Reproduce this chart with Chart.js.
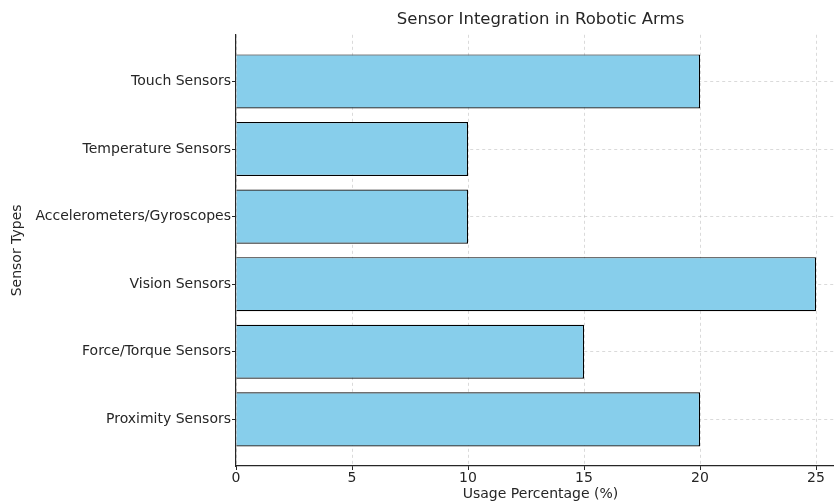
<!DOCTYPE html>
<html>
<head>
<meta charset="utf-8">
<script src="https://cdn.jsdelivr.net/npm/chart.js@4/dist/chart.umd.min.js"></script>
<style>
  html, body { margin: 0; padding: 0; background: #fff; overflow: hidden; }
  #wrap { width: 860px; height: 504px; position: relative; }
</style>
</head>
<body>
<div id="wrap"><canvas id="c"></canvas></div>
<script>
// Data (bottom to top, as in the reference)
const categories = ['Proximity Sensors', 'Force/Torque Sensors', 'Vision Sensors',
                    'Accelerometers/Gyroscopes', 'Temperature Sensors', 'Touch Sensors'];
const usage = [20, 15, 25, 10, 10, 20];
const xTicks = [0, 5, 10, 15, 20, 25];

const FONT = "'DejaVu Sans', sans-serif";
const TXT = '#262626';
const GRID = 'rgba(176,176,176,0.6)';

new Chart(document.getElementById('c'), {
  type: 'bar',
  data: {
    datasets: [{
      data: usage.map((v, i) => ({ x: v, y: i })),
      backgroundColor: '#87CEEB',
      borderColor: '#000000',
      borderWidth: 1.2,
      barPercentage: 0.8,
      categoryPercentage: 1.0
    }]
  },
  options: {
    indexAxis: 'y',
    responsive: true,
    maintainAspectRatio: false,
    animation: false,
    layout: { padding: { left: 0, right: 15, top: 0, bottom: 0 } },
    plugins: {
      legend: { display: false },
      tooltip: { enabled: false },
      title: {
        display: true,
        text: 'Sensor Integration in Robotic Arms',
        fullSize: false,
        color: TXT,
        font: { family: FONT, size: 16.5, weight: 'normal' },
        padding: { top: 10, bottom: 5 }
      }
    },
    scales: {
      x: {
        type: 'linear',
        min: 0,
        max: 26.25,
        afterBuildTicks: (s) => { s.ticks = xTicks.map(v => ({ value: v })); },
        ticks: { color: TXT, font: { family: FONT, size: 14 }, padding: 0 },
        grid: { color: GRID, lineWidth: 0.8, tickColor: '#262626', tickLength: 4, tickWidth: 1, tickBorderDash: [] },
        border: { display: true, color: '#262626', width: 1.2, dash: [3, 3] },
        afterFit: (s) => { s.height = 38; },
        title: {
          display: true,
          text: 'Usage Percentage (%)',
          color: TXT,
          font: { family: FONT, size: 14 },
          padding: { top: 1, bottom: 1 }
        }
      },
      y: {
        type: 'linear',
        offset: false,
        min: -0.69,
        max: 5.69,
        afterBuildTicks: (s) => { s.ticks = categories.map((_, i) => ({ value: i })); },
        ticks: {
          color: TXT,
          font: { family: FONT, size: 14 },
          padding: 1,
          callback: (v) => categories[v]
        },
        grid: { offset: false, color: GRID, lineWidth: 0.8, tickColor: '#262626', tickLength: 4, tickWidth: 1, tickBorderDash: [] },
        border: { display: true, color: '#262626', width: 1.2, dash: [3, 3] },
        afterFit: (s) => { s.width = 236; },
        title: {
          display: true,
          text: 'Sensor Types',
          color: TXT,
          font: { family: FONT, size: 14 },
          padding: { top: 9, bottom: 4 }
        }
      }
    }
  }
});
</script>
</body>
</html>
